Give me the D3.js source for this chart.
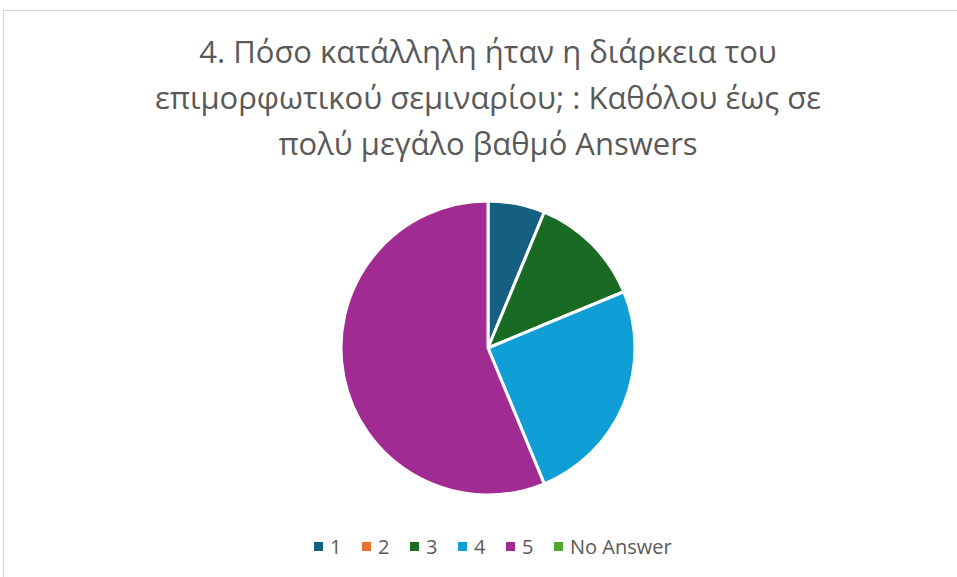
<!DOCTYPE html>
<html>
<head>
<meta charset="utf-8">
<script src="https://cdn.jsdelivr.net/npm/d3@7"></script>
<style>
  body { margin: 0; background: #fff; }
  svg { display: block; }
</style>
</head>
<body>
<svg id="chart" width="957" height="577"></svg>
<script>
// Chart data
const categories = ['1', '2', '3', '4', '5', 'No Answer'];
const answers = [1, 0, 2, 4, 9, 0];
const colors = ['#156082', '#E97132', '#196B24', '#0F9ED5', '#A02B93', '#4EA72E'];
const titleLines = [
    '4. Πόσο κατάλληλη ήταν η διάρκεια του',
    'επιμορφωτικού σεμιναρίου; : Καθόλου έως σε',
    'πολύ μεγάλο βαθμό Answers'
];

const width = 957, height = 577;
const fontFamily = '"Open Sans", sans-serif';
const svg = d3.select('#chart');

// Chart frame
svg.append('rect')
    .attr('x', 3.5).attr('y', 10.5)
    .attr('width', width + 10).attr('height', height + 10)
    .attr('fill', 'none')
    .attr('stroke', '#d9d9d9')
    .attr('stroke-width', 1);

// Title
svg.append('text')
    .attr('text-anchor', 'middle')
    .attr('fill', '#595959')
    .style('font-family', fontFamily)
    .style('font-size', '31px')
    .selectAll('tspan')
    .data(titleLines)
    .join('tspan')
    .attr('x', 488)
    .attr('y', (d, i) => 63 + i * 46)
    .text(d => d);

// Pie
const color = d3.scaleOrdinal().domain(categories).range(colors);
const pie = d3.pie().sort(null).value(d => d.value);
const arc = d3.arc().innerRadius(0).outerRadius(147);
const data = categories.map((c, i) => ({ name: c, value: answers[i] }));

svg.append('g')
    .attr('transform', 'translate(488,348)')
    .selectAll('path')
    .data(pie(data).filter(d => d.data.value > 0))
    .join('path')
    .attr('d', arc)
    .attr('fill', d => color(d.data.name))
    .attr('stroke', '#fff')
    .attr('stroke-width', 3)
    .attr('stroke-linejoin', 'round');

// Legend
const legendX = [314, 362, 410, 458, 506, 554];
const legend = svg.append('g')
    .style('font-family', fontFamily)
    .style('font-size', '20px')
    .selectAll('g')
    .data(categories)
    .join('g')
    .attr('transform', (d, i) => `translate(${legendX[i]},547)`);

legend.append('rect')
    .attr('x', 0).attr('y', -5)
    .attr('width', 9).attr('height', 9)
    .attr('fill', d => color(d));

legend.append('text')
    .attr('x', 16).attr('y', 7)
    .attr('fill', '#595959')
    .text(d => d);
</script>
</body>
</html>
